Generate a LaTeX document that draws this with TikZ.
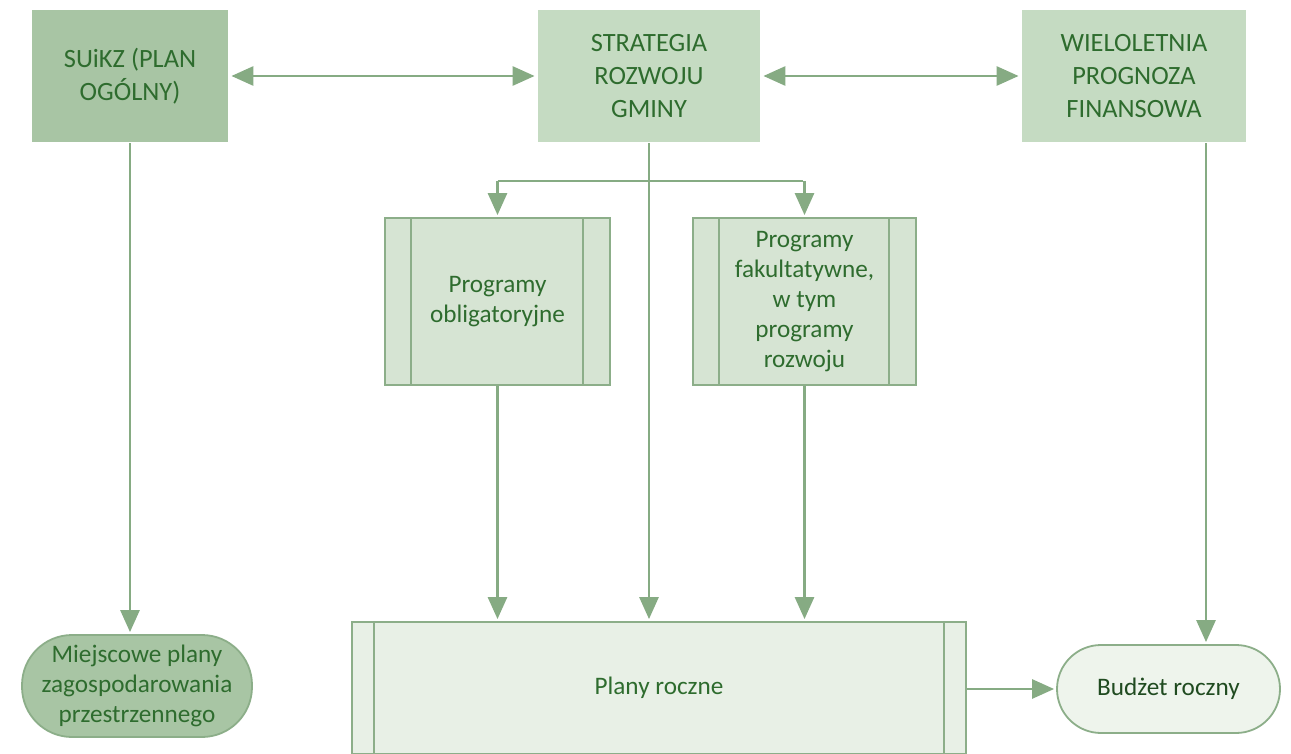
\documentclass[tikz,border=0pt]{standalone}
\usepackage{fontspec}
\setmainfont{Carlito}
\usepackage{tikz}
\usetikzlibrary{arrows.meta}

\definecolor{darkfill}{RGB}{168,197,164}
\definecolor{midfill}{RGB}{197,219,194}
\definecolor{procfill}{RGB}{214,228,211}
\definecolor{lightfill}{RGB}{232,240,230}
\definecolor{budfill}{RGB}{238,244,236}
\definecolor{edgegreen}{RGB}{140,174,137}
\definecolor{arrowgreen}{RGB}{134,171,131}
\definecolor{textgreen}{RGB}{46,108,46}

\begin{document}
\begin{tikzpicture}[x=0.5pt,y=-0.5pt,shorten >=1pt,-{Triangle[length=11pt,width=9.5pt]},draw=arrowgreen,line width=1.4pt]
    \tikzstyle{box}=[rectangle,inner sep=2pt,align=center,text=textgreen]
    \tikzstyle{top}=[box,font=\fontsize{13.2}{16.5}\selectfont,minimum height=66pt,draw=none]
    \tikzstyle{proc}=[box,font=\fontsize{12.6}{15}\selectfont,draw=edgegreen,line width=0.9pt]
    \tikzstyle{term}=[proc,rounded corners=25pt]
    \tikzstyle{subline}=[-,draw=edgegreen,line width=0.9pt,shorten >=0pt]

\useasboundingbox (0,0) rectangle (1291,754);

% gorny rzad
\node[top,fill=darkfill,minimum width=98pt] (suikz) at (130,76) {SUiKZ (PLAN\\OGÓLNY)};
\node[top,fill=midfill,minimum width=111pt] (strat) at (649,76) {STRATEGIA\\ROZWOJU\\GMINY};
\node[top,fill=midfill,minimum width=112pt] (wpf) at (1134,76) {WIELOLETNIA\\PROGNOZA\\FINANSOWA};

% programy
\node[proc,fill=procfill,minimum width=112.5pt,minimum height=83.5pt] (obl) at (497.5,301.5) {Programy\\obligatoryjne};
\node[proc,fill=procfill,minimum width=111.5pt,minimum height=83.5pt] (fak) at (804.5,301.5) {Programy\\fakultatywne,\\w tym\\programy\\rozwoju};

% dolny rzad
\node[term,fill=darkfill,minimum width=115pt,minimum height=51pt] (mpzp) at (137,686) {Miejscowe plany\\zagospodarowania\\przestrzennego};
\node[proc,fill=lightfill,minimum width=307pt,minimum height=66pt] (plany) at (659,688) {Plany roczne};
\node[term,fill=budfill,rounded corners=22pt,minimum width=111.5pt,minimum height=44pt,text=textgreen!70!black] (budzet) at (1168.5,689) {Budżet roczny};

% pionowe kreski procesow
\draw[subline] ([xshift=13.5pt]obl.north west) -- ([xshift=13.5pt]obl.south west);
\draw[subline] ([xshift=-14pt]obl.north east) -- ([xshift=-14pt]obl.south east);
\draw[subline] ([xshift=13.5pt]fak.north west) -- ([xshift=13.5pt]fak.south west);
\draw[subline] ([xshift=-14pt]fak.north east) -- ([xshift=-14pt]fak.south east);
\draw[subline] ([xshift=11.5pt]plany.north west) -- ([xshift=11.5pt]plany.south west);
\draw[subline] ([xshift=-11.5pt]plany.north east) -- ([xshift=-11.5pt]plany.south east);

% polaczenia
\draw[{Triangle[length=11pt,width=9.5pt]}-{Triangle[length=11pt,width=9.5pt]},shorten <=1pt] (suikz) -- (strat);
\draw[{Triangle[length=11pt,width=9.5pt]}-{Triangle[length=11pt,width=9.5pt]},shorten <=1pt] (strat) -- (wpf);
\draw (suikz.south) -- (suikz.south |- mpzp.north);
\draw (strat.south) -- (strat.south |- plany.north);
\coordinate (split) at (649,181);
\draw[-] (obl.north |- split) -- (fak.north |- split);
\draw (obl.north |- split) -- (obl.north);
\draw (fak.north |- split) -- (fak.north);
\draw (obl.south) -- (obl.south |- plany.north);
\draw (fak.south) -- (fak.south |- plany.north);
\draw ([xshift=36pt]wpf.south) -- ([xshift=36pt]wpf.south |- budzet.north);
\draw (plany.east |- budzet) -- (budzet.west);
\end{tikzpicture}
\end{document}
